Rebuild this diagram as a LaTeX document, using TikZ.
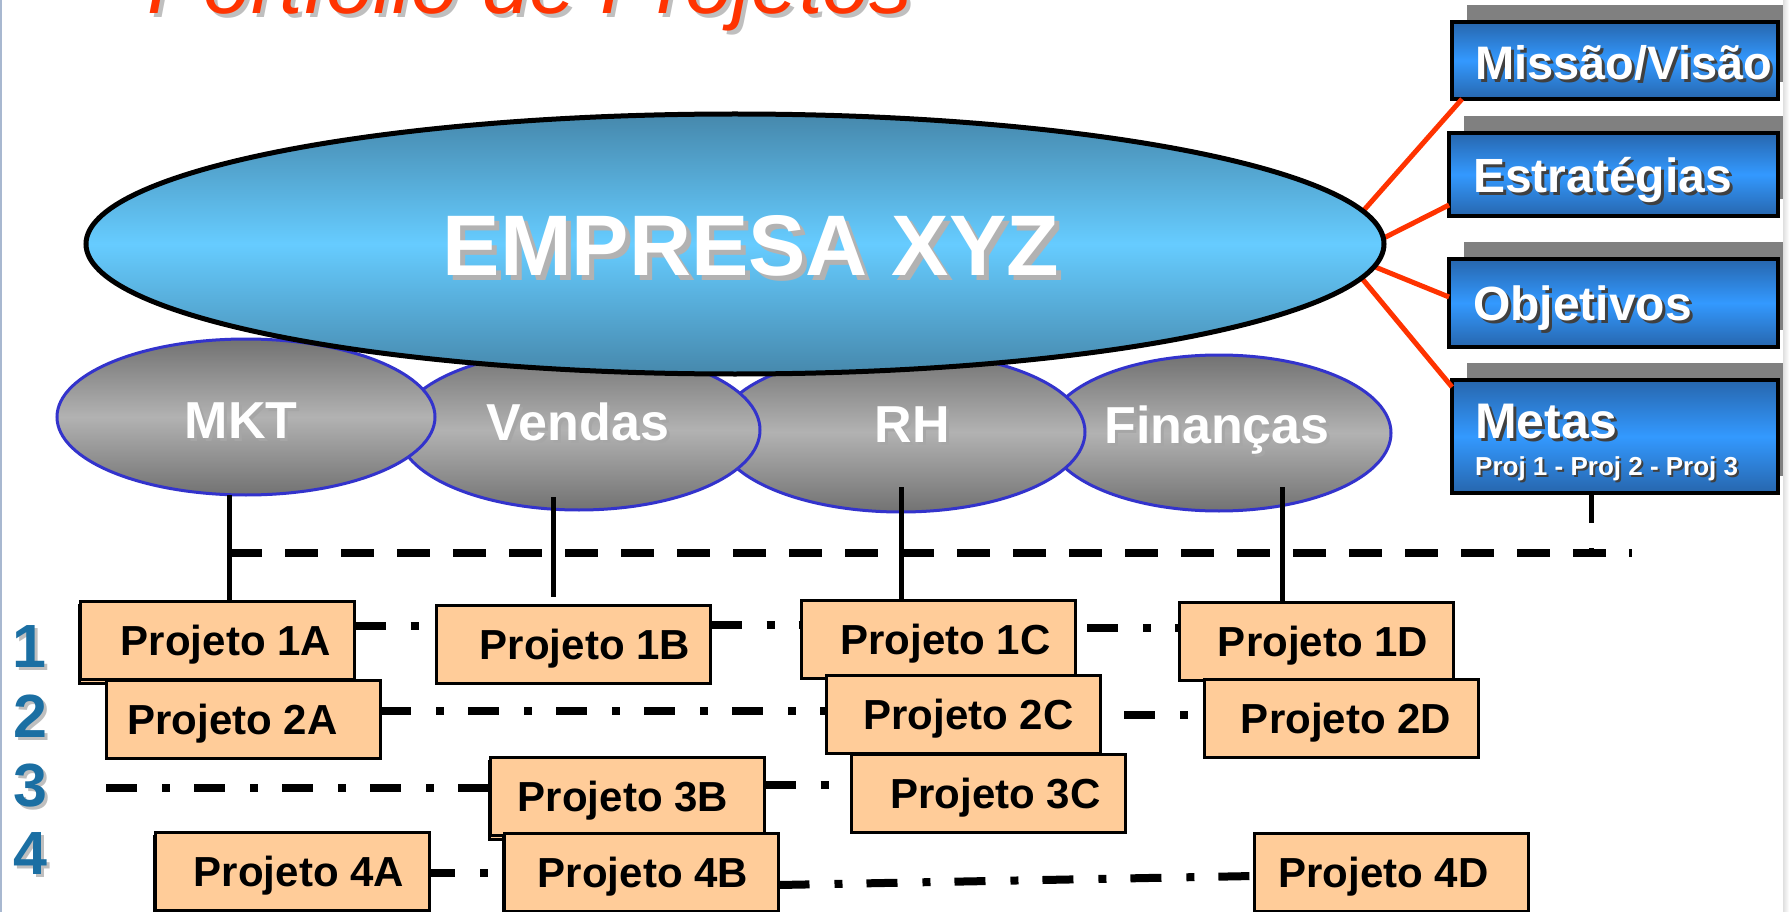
\documentclass[tikz,border=0pt]{standalone}
\usepackage{fontspec}
\setmainfont{Liberation Sans}
\usetikzlibrary{shapes.geometric,shadows}
\definecolor{peach}{HTML}{FFCC99}
\definecolor{redl}{HTML}{FF3300}
\definecolor{tealdark}{HTML}{4688AC}
\definecolor{skyb}{HTML}{66CCFF}
\definecolor{grayd}{HTML}{727272}
\definecolor{grayl}{HTML}{B2B2B2}
\definecolor{ellb}{HTML}{3333CC}
\definecolor{bluedk}{HTML}{2766AD}
\definecolor{bluebr}{HTML}{3399FF}
\definecolor{numblue}{HTML}{1B6FA3}
\definecolor{shgray}{HTML}{808080}
\definecolor{edgeblue}{HTML}{A8B8D0}
\newcommand{\shd}[3]{\makebox[0pt][l]{\hspace*{#1}\raisebox{-#1}{\color{#2}#3}}#3}
\begin{document}
\begin{tikzpicture}[x=1pt,y=-1pt,
  pbox/.style={draw=black, line width=3pt, fill=peach, minimum width=274pt, minimum height=78pt,
    inner sep=0pt, outer sep=0pt, font=\fontsize{42}{50}\selectfont\bfseries, text height=30pt, text depth=0pt},
  pboxd/.style={pbox, general shadow={shadow xshift=-1pt, shadow yshift=-4pt, fill=peach, draw=black, line width=3pt}},
  dept/.style={ellipse, draw=ellb, line width=3pt, top color=grayd, bottom color=grayd, middle color=grayl,
    inner sep=0pt, outer sep=0pt},
  dtext/.style={inner sep=0pt, text=white, font=\fontsize{52}{60}\selectfont\bfseries, text height=37pt, text depth=0pt},
  mainell/.style={ellipse, draw=black, line width=5pt, top color=tealdark, bottom color=tealdark, middle color=skyb,
    inner sep=0pt, outer sep=0pt},
  rbox/.style={draw=black, line width=3.5pt, top color=bluedk, bottom color=bluedk, middle color=bluebr,
    inner sep=0pt, outer sep=0pt, general shadow={fill=shgray, shadow xshift=15pt, shadow yshift=17pt}},
  rtext/.style={anchor=base west, inner sep=0pt, text=white, font=\fontsize{48}{56}\selectfont\bfseries},
  redline/.style={draw=redl, line width=5pt},
  vline/.style={line width=5pt},
  ddash/.style={line width=8pt, dash pattern=on 31pt off 25pt on 8pt off 24pt},
  numsty/.style={inner sep=0pt, text=numblue, font=\fontsize{61}{70}\selectfont\bfseries, text height=44pt, text depth=0pt}
]
\useasboundingbox (0,0) rectangle (1789,912);
\clip (0,0) rectangle (1789,912);
\fill[white] (0,0) rectangle (1789,912);

% right boxes
\node[rbox, minimum width=326pt, minimum height=77pt] (mv) at (1615,60.5) {};
\node[rbox, minimum width=329pt, minimum height=83pt] (est) at (1613.5,174.5) {};
\node[rbox, minimum width=329pt, minimum height=88pt] (obj) at (1613.5,303) {};
\node[rbox, minimum width=326pt, minimum height=113pt] (met) at (1615,436.5) {};
\node[rtext, font=\fontsize{47}{56}\selectfont\bfseries] (mvt) at (1475,80) {\shd{3pt}{black!75}{Missão/Visão}};
\node[rtext] (estt) at (1473,193) {\shd{3pt}{black!75}{Estratégias}};
\node[rtext] (objt) at (1473,320) {\shd{3pt}{black!75}{Objetivos}};
\node[rtext, font=\fontsize{50}{58}\selectfont\bfseries] (mett) at (1475,438) {\shd{3pt}{black!75}{Metas}};
\node[rtext, font=\fontsize{26}{30}\selectfont\bfseries] (metp) at (1475,475) {\shd{2pt}{black!75}{Proj 1 - Proj 2 - Proj 3}};

% red connectors
\coordinate (e1) at (1349,227);
\coordinate (e2) at (1360,250);
\coordinate (e3) at (1358,260);
\coordinate (e4) at (1350,264);
\draw[redline] (e1) -- ([xshift=10pt]mv.south west);
\draw[redline] (e2) -- ([yshift=11pt]est.south west);
\draw[redline] (e3) -- ([yshift=6pt]obj.west);
\draw[redline] (e4) -- ([yshift=-7pt]met.north west);

% departments
\node[dept, minimum width=344pt, minimum height=156pt] (fin) at (1219,433) {};
\node[dept, minimum width=368pt, minimum height=160pt] (rh) at (901,432) {};
\node[dept, minimum width=362pt, minimum height=160pt] (ven) at (579,430) {};
\node[dept, minimum width=378pt, minimum height=156pt] (mkt) at (246,417) {};
\node[dtext] (mktt) at (241,420) {\shd{3pt}{gray!70}{MKT}};
\node[dtext] (vent) at (578,422) {\shd{3pt}{gray!70}{Vendas}};
\node[dtext] (rht) at (912,424) {\shd{3pt}{gray!70}{RH}};
\node[dtext] (fint) at (1217,425) {\shd{3pt}{gray!70}{Finanças}};

% company
\node[mainell, minimum width=1298pt, minimum height=260pt] (emp) at (735,244) {};
\node[inner sep=0pt, text=white, font=\fontsize{86}{96}\selectfont\bfseries, text height=62pt, text depth=0pt] (empt) at (751,245) {\shd{5pt}{gray!60}{EMPRESA XYZ}};

% projects
\node[pboxd] (p1a) at (217.5,640) {\hspace*{17pt}Projeto 1A};
\node[pbox] (p1b) at (573.5,644.5) {\hspace*{23pt}Projeto 1B};
\node[pbox] (p1c) at (938,639) {\hspace*{15pt}Projeto 1C};
\node[pbox] (p1d) at (1316.5,641.5) {\hspace*{13pt}Projeto 1D};
\node[pbox] (p2a) at (243,719) {Projeto 2A\hspace*{21pt}};
\node[pbox] (p2c) at (963,714.5) {\hspace*{11pt}Projeto 2C};
\node[pbox] (p2d) at (1341,718) {\hspace*{10pt}Projeto 2D};
\node[pboxd] (p3b) at (627.5,796) {Projeto 3B\hspace*{9pt}};
\node[pbox] (p3c) at (988,793.5) {\hspace*{15pt}Projeto 3C};
\node[pboxd] (p4a) at (292,871) {\hspace*{14pt}Projeto 4A};
\node[pboxd] (p4b) at (641.5,872.5) {\hspace*{3pt}Projeto 4B};
\node[pbox] (p4d) at (1391,872) {Projeto 4D\hspace*{15pt}};

% department lines
\coordinate (mk1) at ([xshift=-17pt]mkt.south);
\draw[vline] (mk1) -- (mk1 |- p1a.north);
\coordinate (vn1) at ([xshift=-26pt,yshift=13pt]ven.south);
\coordinate (vn2) at ([yshift=9pt]vn1 |- p1b.north);
\draw[vline] (vn1) -- (vn2);
\coordinate (rh1) at ([yshift=25pt]rh.south);
\draw[vline] (rh1) -- (rh1 |- p1c.north);
\coordinate (fn1) at ([xshift=63pt,yshift=24pt]fin.south);
\draw[vline] (fn1) -- (fn1 |- p1d.north);

% dashed line
\coordinate (dl) at (229,553);
\coordinate (dr) at (1632,553);
\draw[line width=8pt, dash pattern=on 33pt off 23pt] (dl) -- (dr);
\draw[line width=5pt, dash pattern=on 30pt off 25pt] ([xshift=-24pt]met.south) -- ([xshift=-24pt]met.south |- dl);

% dash-dot project lines
\draw[ddash] ([yshift=14pt]p1a.east) -- ([yshift=14pt]p1a.east -| p1b.west);
\draw[ddash] ([yshift=19.5pt]p1b.east) -- ([yshift=19.5pt]p1b.east -| p1c.west);
\draw[ddash, dash phase=76pt] ([yshift=11pt]p1c.east) -- ([yshift=11pt]p1c.east -| p1d.west);
\draw[ddash] ([yshift=8.5pt]p2a.east) -- ([yshift=8.5pt]p2a.east -| p2c.west);
\draw[ddash, dash phase=64pt] ([yshift=-0.5pt]p2c.east) -- ([yshift=-0.5pt]p2c.east -| p2d.west);
\coordinate (r3) at (106,788);
\draw[ddash] (r3) -- (r3 -| p3b.west);
\draw[ddash] ([yshift=11pt]p3b.east) -- ([yshift=11pt]p3b.east -| p3c.west);
\draw[ddash, dash phase=5pt] ([yshift=-2pt]p4a.east) -- ([yshift=-2pt]p4a.east -| p4b.west);
\draw[ddash] ([yshift=-12.5pt]p4b.east) -- ([yshift=-4pt]p4d.west);

% row numbers
\node[numsty] (n1) at (29,645) {\shd{3pt}{gray!50}{1}};
\node[numsty] (n2) at (30,715) {\shd{3pt}{gray!50}{2}};
\node[numsty] (n3) at (30,784) {\shd{3pt}{gray!50}{3}};
\node[numsty] (n4) at (30,852) {\shd{3pt}{gray!50}{4}};

% title
\node[anchor=base west, inner sep=0pt, text=redl, font=\fontsize{85}{96}\selectfont\itshape] (title) at (147,14) {\shd{4pt}{gray!50}{Portfolio de Projetos}};

% page edges
\fill[edgeblue] (0,0) rectangle (2,912);
\shade[left color=gray!25, right color=white] (1783,0) rectangle (1789,912);
\end{tikzpicture}
\end{document}
